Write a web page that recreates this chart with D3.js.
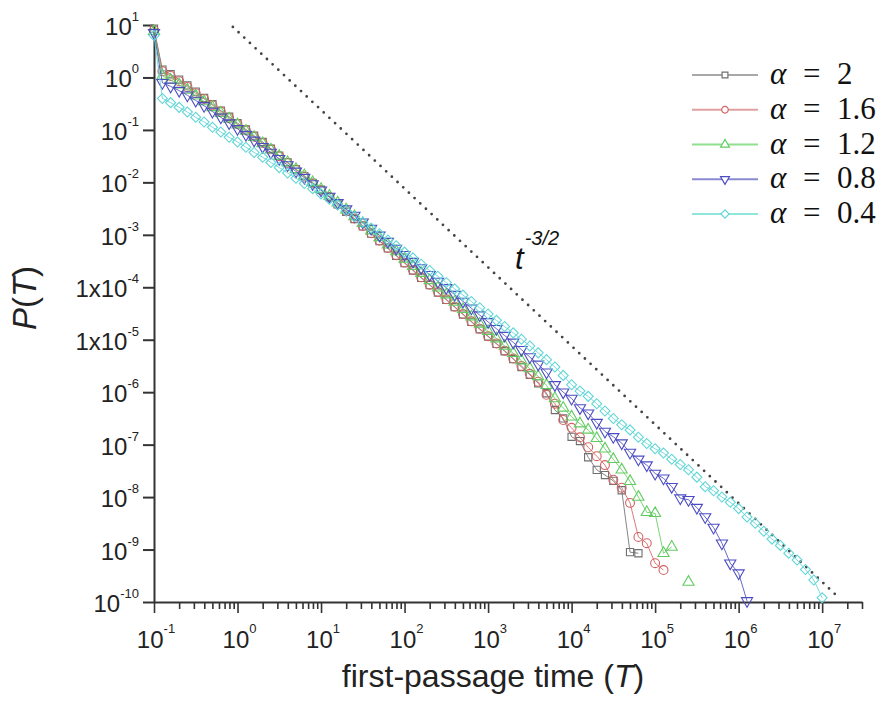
<!DOCTYPE html>
<html><head><meta charset="utf-8">
<script src="https://cdn.jsdelivr.net/npm/d3@7"></script>
<style>body{margin:0;background:#fff}svg{display:block}</style>
</head><body><svg id="c" width="887" height="701"></svg>
<script>
// first-passage times (log bins, 0.1 decade)
const times = [
 1e-1,1.26e-1,1.58e-1,2e-1,2.51e-1,3.16e-1,3.98e-1,5.01e-1,6.31e-1,7.94e-1,
 1,1.26,1.58,2,2.51,3.16,3.98,5.01,6.31,7.94,
 10,12.6,15.8,20,25.1,31.6,39.8,50.1,63.1,79.4,
 100,126,158,200,251,316,398,501,631,794,
 1e3,1.26e3,1.58e3,2e3,2.51e3,3.16e3,3.98e3,5.01e3,6.31e3,7.94e3,
 1e4,1.26e4,1.58e4,2e4,2.51e4,3.16e4,3.98e4,5.01e4,6.31e4,7.94e4,
 1e5,1.26e5,1.58e5,2e5,2.51e5,3.16e5,3.98e5,5.01e5,6.31e5,7.94e5,
 1e6,1.26e6,1.58e6,2e6,2.51e6,3.16e6,3.98e6,5.01e6,6.31e6,7.94e6,
 1e7];

const pAlpha2 = [
 8.5,1.41,1.15,0.912,0.708,0.537,0.407,0.309,0.234,0.178,
 0.135,0.102,7.76e-2,5.89e-2,4.37e-2,3.24e-2,2.40e-2,1.78e-2,1.32e-2,9.77e-3,
 7.24e-3,5.25e-3,3.80e-3,2.75e-3,2.00e-3,1.45e-3,1.05e-3,7.59e-4,5.50e-4,3.98e-4,
 2.88e-4,2.09e-4,1.51e-4,1.10e-4,7.94e-5,5.75e-5,4.17e-5,3.02e-5,2.19e-5,1.58e-5,
 1.15e-5,8.32e-6,6.03e-6,4.27e-6,3.02e-6,2.14e-6,1.48e-6,9.55e-7,4.57e-7,3.16e-7,
 1.41e-7,1.17e-7,5.75e-8,3.31e-8,2.63e-8,2.04e-8,1.35e-8,8.91e-10,8.51e-10];

const pAlpha16 = [
 7.94,1.32,1.07,0.851,0.661,0.501,0.389,0.295,0.224,0.170,
 0.129,9.77e-2,7.41e-2,5.62e-2,4.27e-2,3.16e-2,2.34e-2,1.74e-2,1.29e-2,9.55e-3,
 7.08e-3,5.25e-3,3.80e-3,2.82e-3,2.04e-3,1.48e-3,1.07e-3,7.76e-4,5.62e-4,4.07e-4,
 2.95e-4,2.14e-4,1.55e-4,1.12e-4,8.13e-5,5.89e-5,4.27e-5,3.09e-5,2.24e-5,1.62e-5,
 1.17e-5,8.51e-6,6.17e-6,4.37e-6,3.16e-6,2.24e-6,1.58e-6,8.91e-7,6.03e-7,2.95e-7,
 2.09e-7,1.38e-7,8.91e-8,6.03e-8,4.07e-8,2.14e-8,1.51e-8,7.76e-9,1.74e-9,1.32e-9,
 5.50e-10,4.07e-10];

const pAlpha12 = [
 7.59,1.07,0.891,0.724,0.575,0.447,0.347,0.269,0.209,0.162,
 0.126,9.55e-2,7.24e-2,5.50e-2,4.17e-2,3.16e-2,2.40e-2,1.78e-2,1.35e-2,1.00e-2,
 7.41e-3,5.50e-3,4.07e-3,3.02e-3,2.24e-3,1.66e-3,1.20e-3,8.91e-4,6.46e-4,4.79e-4,
 3.47e-4,2.51e-4,1.86e-4,1.35e-4,9.77e-5,7.24e-5,5.25e-5,3.80e-5,2.75e-5,2.00e-5,
 1.45e-5,1.05e-5,7.59e-6,5.50e-6,3.98e-6,2.82e-6,2.00e-6,1.35e-6,7.59e-7,5.01e-7,
 3.39e-7,2.51e-7,1.91e-7,1.32e-7,8.32e-8,5.25e-8,3.31e-8,2.00e-8,1.00e-8,5.13e-9,
 4.90e-9,8.51e-10,1.12e-9,null,2.40e-10];

const pAlpha08 = [
 7.08,0.794,0.676,0.562,0.457,0.363,0.288,0.224,0.174,0.135,
 0.105,8.13e-2,6.31e-2,4.79e-2,3.72e-2,2.82e-2,2.14e-2,1.62e-2,1.23e-2,9.33e-3,
 7.08e-3,5.37e-3,4.07e-3,3.09e-3,2.34e-3,1.74e-3,1.32e-3,9.77e-4,7.41e-4,5.50e-4,
 4.17e-4,3.09e-4,2.34e-4,1.74e-4,1.29e-4,9.77e-5,7.24e-5,5.37e-5,3.98e-5,2.95e-5,
 2.19e-5,1.62e-5,1.20e-5,8.91e-6,6.46e-6,4.68e-6,3.39e-6,2.40e-6,1.38e-6,1.00e-6,
 7.59e-7,5.01e-7,3.98e-7,2.63e-7,1.78e-7,1.41e-7,1.07e-7,7.08e-8,5.25e-8,4.07e-8,
 2.82e-8,2.29e-8,1.58e-8,9.55e-9,8.91e-9,6.31e-9,4.17e-9,2.63e-9,1.32e-9,5.50e-10,
 3.55e-10,1.05e-10];

const pAlpha04 = [
 6.31,0.398,0.331,0.269,0.219,0.174,0.141,0.112,9.12e-2,7.24e-2,
 5.89e-2,4.68e-2,3.72e-2,3.02e-2,2.40e-2,1.91e-2,1.51e-2,1.20e-2,9.55e-3,7.59e-3,
 6.03e-3,4.79e-3,3.72e-3,2.88e-3,2.24e-3,1.74e-3,1.35e-3,1.05e-3,7.94e-4,6.17e-4,
 4.68e-4,3.63e-4,2.75e-4,2.09e-4,1.62e-4,1.23e-4,9.33e-5,7.08e-5,5.37e-5,4.07e-5,
 3.09e-5,2.34e-5,1.78e-5,1.35e-5,1.02e-5,7.59e-6,5.62e-6,4.17e-6,3.02e-6,2.09e-6,
 1.38e-6,1.05e-6,8.32e-7,6.03e-7,4.37e-7,3.16e-7,2.40e-7,1.91e-7,1.38e-7,1.05e-7,
 8.32e-8,6.92e-8,5.25e-8,4.17e-8,3.31e-8,2.40e-8,1.58e-8,1.32e-8,1.00e-8,7.94e-9,
 6.03e-9,4.17e-9,3.16e-9,2.24e-9,1.58e-9,1.20e-9,8.51e-10,6.31e-10,4.17e-10,2.63e-10,
 1.20e-10];

const alphaLabels = ["2","1.6","1.2","0.8","0.4"];
const seriesColors = ["#707070","#d46262","#62cc62","#4c4cc2","#62d6d6"];
const legendColors = ["#a8a8a8","#e0a0a0","#8fe08f","#8a8ad0","#8fe6dc"];

// reference power law t^-3/2
const refT = [0.88, 1.6e7];
const refP = [9.2, 1.19e-10];

const xTickValues = [1e-1,1,1e1,1e2,1e3,1e4,1e5,1e6,1e7];
const xTickExps = ["-1","0","1","2","3","4","5","6","7"];
const yTickValues = [1e1,1,1e-1,1e-2,1e-3,1e-4,1e-5,1e-6,1e-7,1e-8,1e-9,1e-10];
const yTickBases = ["10","10","10","10","10","1x10","1x10","10","10","10","10","10"];
const yTickExps = ["1","0","-1","-2","-3","-4","-5","-6","-7","-8","-9","-10"];

const svg = d3.select("#c");
const x = d3.scaleLog().domain([0.1, 3e7]).range([154, 862]);
const y = d3.scaleLog().domain([1e-10, 10]).range([602, 25]);
const axisColor = "#333";
const sans = "'Liberation Sans', Arial, sans-serif";

// minor + major x ticks
const xAll = [];
for (let e = -1; e <= 7; e++) for (let m = 1; m <= 9; m++) { const v = m * Math.pow(10, e); if (v <= 3e7 * 1.0001) xAll.push(v); }
const gx = svg.append("g").attr("transform", "translate(0,602)")
  .call(d3.axisBottom(x).tickValues(xAll).tickSize(6).tickSizeOuter(0).tickFormat(""));
gx.select(".domain").attr("stroke", axisColor).attr("stroke-width", 2);
gx.selectAll(".tick line").attr("stroke", axisColor).attr("stroke-width", 1.6)
  .attr("y2", d => xTickValues.some(v => Math.abs(v - d) / v < 1e-6) ? 11 : 7);

xTickValues.forEach((v, i) => {
  const t = svg.append("text").attr("x", x(v) + 2).attr("y", 648)
    .attr("text-anchor", "middle").attr("font-family", sans).attr("font-size", 24).attr("fill", "#222");
  t.append("tspan").text("10");
  t.append("tspan").attr("dy", -15).attr("font-size", 13).text(xTickExps[i]);
});

const gy = svg.append("g").attr("transform", "translate(154,0)")
  .call(d3.axisLeft(y).tickValues(yTickValues).tickSize(11).tickSizeOuter(0).tickFormat(""));
gy.select(".domain").attr("stroke", axisColor).attr("stroke-width", 2);
gy.selectAll(".tick line").attr("stroke", axisColor).attr("stroke-width", 2);

yTickValues.forEach((v, i) => {
  const t = svg.append("text").attr("x", 139).attr("y", y(v) + 10)
    .attr("text-anchor", "end").attr("font-family", sans).attr("font-size", 24).attr("fill", "#222");
  t.append("tspan").text(yTickBases[i]);
  t.append("tspan").attr("dy", -14).attr("font-size", 13).text(yTickExps[i]);
});

// axis titles
const xt = svg.append("text").attr("x", 493).attr("y", 687).attr("text-anchor", "middle")
  .attr("font-family", sans).attr("font-size", 32).attr("fill", "#222");
xt.append("tspan").text("first-passage time (");
xt.append("tspan").attr("font-style", "italic").text("T");
xt.append("tspan").text(")");

const yt = svg.append("text").attr("transform", "translate(36,298) rotate(-90)").attr("text-anchor", "middle")
  .attr("font-family", sans).attr("font-size", 33).attr("fill", "#222");
yt.append("tspan").attr("font-style", "italic").text("P");
yt.append("tspan").text("(");
yt.append("tspan").attr("font-style", "italic").text("T");
yt.append("tspan").text(")");

// reference line
svg.append("line").attr("x1", x(refT[0])).attr("y1", y(refP[0])).attr("x2", x(refT[1])).attr("y2", y(refP[1]))
  .attr("stroke", "#444").attr("stroke-width", 2.8).attr("stroke-linecap", "round").attr("stroke-dasharray", "0,7.8");

const lab = svg.append("text").attr("x", 515).attr("y", 269).attr("font-family", sans).attr("font-style", "italic").attr("fill", "#111");
lab.append("tspan").attr("font-size", 31).text("t");
lab.append("tspan").attr("dx", 1).attr("dy", -24).attr("font-size", 20).text("-3/2");

// data series
const seriesData = [pAlpha2, pAlpha16, pAlpha12, pAlpha08, pAlpha04];
const symTypes = [d3.symbolSquare, d3.symbolCircle, d3.symbolTriangle, d3.symbolTriangle, d3.symbolSquare];
const symRot = [0, 0, 0, 180, 45];
const symSize = [52, 62, 54, 54, 50];

const line = d3.line().defined(d => d.p != null).x(d => x(d.t)).y(d => y(d.p));
seriesData.forEach((arr, si) => {
  const pts = arr.map((p, i) => ({ t: times[i], p }));
  const g = svg.append("g");
  g.append("path").datum(pts).attr("d", line).attr("fill", "none")
    .attr("stroke", seriesColors[si]).attr("stroke-width", 1).attr("stroke-opacity", 0.85);
  g.selectAll("path.m").data(pts.filter(d => d.p != null)).join("path").attr("class", "m")
    .attr("d", d3.symbol().type(symTypes[si]).size(symSize[si]))
    .attr("transform", d => `translate(${x(d.t)},${y(d.p)}) rotate(${symRot[si]})`)
    .attr("fill", "none").attr("stroke", seriesColors[si]).attr("stroke-width", 1.1);
});

// legend
const serif = "'Liberation Serif', 'DejaVu Serif', serif";
alphaLabels.forEach((a, i) => {
  const ly = 75 + 34.75 * i;
  svg.append("line").attr("x1", 692).attr("x2", 758).attr("y1", ly).attr("y2", ly)
    .attr("stroke", legendColors[i]).attr("stroke-width", 2);
  svg.append("path").attr("d", d3.symbol().type(symTypes[i]).size(34)())
    .attr("transform", `translate(725,${ly}) rotate(${symRot[i]})`)
    .attr("fill", "#fff").attr("stroke", seriesColors[i]).attr("stroke-width", 1.2);
  const t = svg.append("text").attr("y", ly + 9).attr("font-family", serif)
    .attr("font-size", 31).attr("fill", "#111");
  t.append("tspan").attr("x", 770).attr("font-style", "italic").text("α");
  t.append("tspan").attr("x", 803).text("=");
  t.append("tspan").attr("x", 837).text(a);
});
</script></body></html>
